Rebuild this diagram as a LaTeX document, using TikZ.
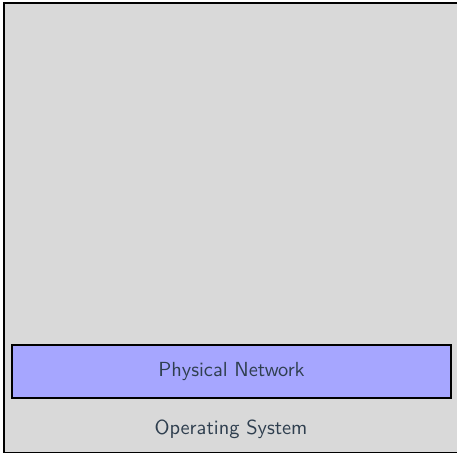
\documentclass[tikz,border=0pt]{standalone}
\usepackage{tikz}
\usepackage{xcolor}
\definecolor{osgray}{HTML}{D9D9D9}
\definecolor{netblue}{HTML}{A6A6FF}
\definecolor{labeltext}{HTML}{2F3F4F}
\begin{document}
\begin{tikzpicture}[x=0.51pt,y=-0.51pt,font=\sffamily\fontsize{10.4}{12.5}\selectfont]
	\useasboundingbox (0,0) rectangle (457,454);
	\clip (0,0) rectangle (457,454);
		% operating system layer
	\draw[fill=osgray, line width=1pt] (4,3) rectangle (462,452.5);
	\node[text=labeltext] (os) at (231,429) {Operating System};
	
		% physical network layer
	\node[draw=black, fill=netblue, line width=1pt, text=labeltext, minimum width=223.4pt, minimum height=27pt] (net) at (231.5,371.5) {Physical Network};
	
\end{tikzpicture}
\end{document}
